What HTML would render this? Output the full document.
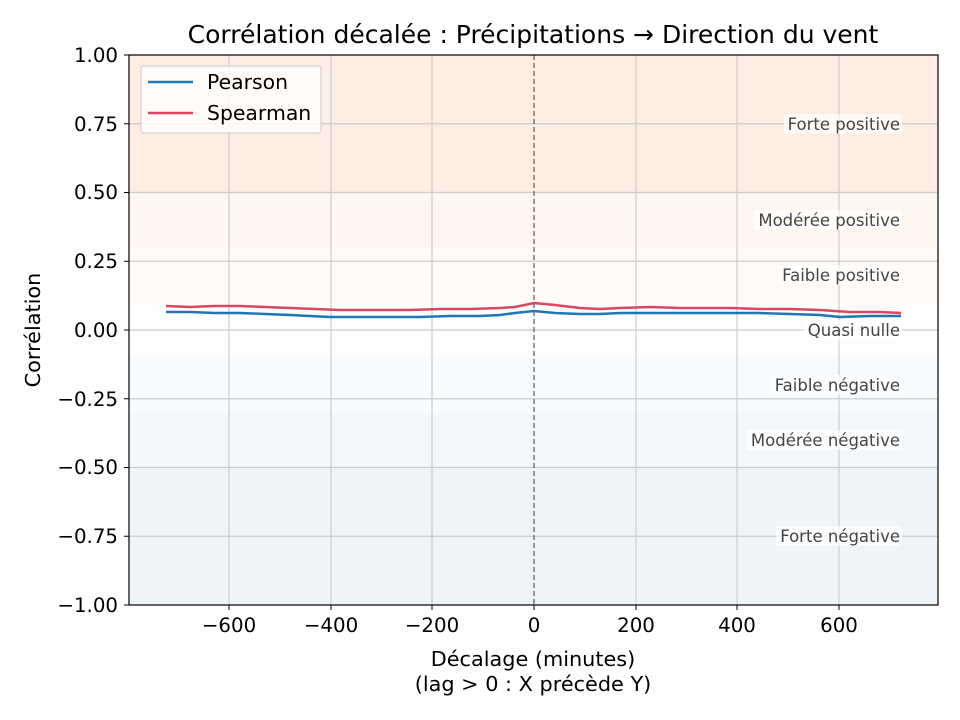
<!DOCTYPE html>
<html><head><meta charset="utf-8"><style>body{margin:0;background:#fff}svg{display:block;font-family:"DejaVu Sans","Liberation Sans",sans-serif}</style></head><body>
<svg width="960" height="720" viewBox="0 0 960 720" xmlns="http://www.w3.org/2000/svg">
<rect width="960" height="720" fill="#fff"/>
<rect x="129" y="55" width="809" height="138" fill="#fdede2"/>
<rect x="129" y="193" width="809" height="55" fill="#fef7ef"/>
<rect x="129" y="248" width="809" height="55" fill="#fefaf7"/>
<rect x="129" y="303" width="809" height="55" fill="#fdfdfd"/>
<rect x="129" y="358" width="809" height="55" fill="#f7fbfd"/>
<rect x="129" y="413" width="809" height="55" fill="#f3f7fb"/>
<rect x="129" y="468" width="809" height="137" fill="#eff4f8"/>
<g stroke="#cccccc" stroke-width="1.2">
<line x1="229" y1="55" x2="229" y2="605"/><line x1="331" y1="55" x2="331" y2="605"/><line x1="432" y1="55" x2="432" y2="605"/><line x1="636" y1="55" x2="636" y2="605"/><line x1="737" y1="55" x2="737" y2="605"/><line x1="839" y1="55" x2="839" y2="605"/>
<line x1="129" y1="123.75" x2="938" y2="123.75"/><line x1="129" y1="192.5" x2="938" y2="192.5"/><line x1="129" y1="261.25" x2="938" y2="261.25"/><line x1="129" y1="330" x2="938" y2="330"/><line x1="129" y1="398.75" x2="938" y2="398.75"/><line x1="129" y1="467.5" x2="938" y2="467.5"/><line x1="129" y1="536.25" x2="938" y2="536.25"/>
</g>
<line x1="534" y1="55" x2="534" y2="605" stroke="#555" stroke-width="1.2" stroke-dasharray="5,3"/>
<g font-size="16.5" fill="#444" text-anchor="end">
<rect x="784" y="114" width="118" height="20" fill="#fff" opacity="0.7"/><text x="900" y="130">Forte positive</text>
<rect x="754" y="210" width="148" height="20" fill="#fff" opacity="0.7"/><text x="900" y="226">Modérée positive</text>
<rect x="778" y="265" width="124" height="20" fill="#fff" opacity="0.7"/><text x="900" y="281">Faible positive</text>
<rect x="804" y="320" width="98" height="20" fill="#fff" opacity="0.7"/><text x="900" y="336">Quasi nulle</text>
<rect x="771" y="375" width="131" height="20" fill="#fff" opacity="0.7"/><text x="900" y="391">Faible négative</text>
<rect x="747" y="430" width="155" height="20" fill="#fff" opacity="0.7"/><text x="900" y="446">Modérée négative</text>
<rect x="776" y="526" width="126" height="20" fill="#fff" opacity="0.7"/><text x="900" y="542">Forte négative</text>
</g>
<polyline fill="none" stroke="#d9485e" stroke-width="2.5" points="166,306 190,307 215,306 240,306 265,307 290,308 315,309 340,310 360,310 385,310 410,310 440,309 470,309 500,308 515,307 534,303 555,305 580,308 600,309 620,308 650,307 680,308 700,308 730,308 760,309 790,309 820,310 850,312 880,312 901,313"/>
<polyline fill="none" stroke="#1f77b4" stroke-width="2.5" points="166,312 190,312 215,313 240,313 265,314 290,315 310,316 330,317 360,317 390,317 420,317 450,316 480,316 500,315 515,313 534,311 555,313 580,314 600,314 620,313 650,313 680,313 700,313 730,313 760,313 790,314 820,315 840,317 870,316 901,316"/>
<rect x="129" y="55" width="809" height="550" fill="none" stroke="#000" stroke-width="1.2"/>
<g stroke="#000" stroke-width="1">
<line x1="229" y1="605" x2="229" y2="610"/><line x1="331" y1="605" x2="331" y2="610"/><line x1="432" y1="605" x2="432" y2="610"/><line x1="534" y1="605" x2="534" y2="610"/><line x1="636" y1="605" x2="636" y2="610"/><line x1="737" y1="605" x2="737" y2="610"/><line x1="839" y1="605" x2="839" y2="610"/>
<line x1="124" y1="55" x2="129" y2="55"/><line x1="124" y1="123.75" x2="129" y2="123.75"/><line x1="124" y1="192.5" x2="129" y2="192.5"/><line x1="124" y1="261.25" x2="129" y2="261.25"/><line x1="124" y1="330" x2="129" y2="330"/><line x1="124" y1="398.75" x2="129" y2="398.75"/><line x1="124" y1="467.5" x2="129" y2="467.5"/><line x1="124" y1="536.25" x2="129" y2="536.25"/><line x1="124" y1="605" x2="129" y2="605"/>
</g>
<g font-size="19.8" fill="#000" text-anchor="middle">
<text x="229" y="632">−600</text><text x="331" y="632">−400</text><text x="432" y="632">−200</text><text x="534" y="632">0</text><text x="636" y="632">200</text><text x="737" y="632">400</text><text x="839" y="632">600</text>
</g>
<g font-size="19.8" fill="#000" text-anchor="end">
<text x="118" y="62">1.00</text><text x="118" y="131">0.75</text><text x="118" y="199">0.50</text><text x="118" y="268">0.25</text><text x="118" y="337">0.00</text><text x="118" y="406">−0.25</text><text x="118" y="474">−0.50</text><text x="118" y="543">−0.75</text><text x="118" y="612">−1.00</text>
</g>
<text x="533" y="666" font-size="20.8" text-anchor="middle">Décalage (minutes)</text>
<text x="533" y="691" font-size="20.8" text-anchor="middle">(lag &gt; 0 : X précède Y)</text>
<text x="40" y="330" font-size="20.8" text-anchor="middle" transform="rotate(-90 40 330)">Corrélation</text>
<text x="533" y="43" font-size="25" text-anchor="middle">Corrélation décalée : Précipitations → Direction du vent</text>
<rect x="141" y="66" width="180" height="67" rx="3" fill="#fff" fill-opacity="0.8" stroke="#ccc"/>
<line x1="148" y1="82" x2="193" y2="82" stroke="#1f77b4" stroke-width="2.5"/>
<line x1="148" y1="113" x2="193" y2="113" stroke="#d9485e" stroke-width="2.5"/>
<text x="207" y="89" font-size="20.4">Pearson</text>
<text x="207" y="120" font-size="20.4">Spearman</text>
</svg>
</body></html>
